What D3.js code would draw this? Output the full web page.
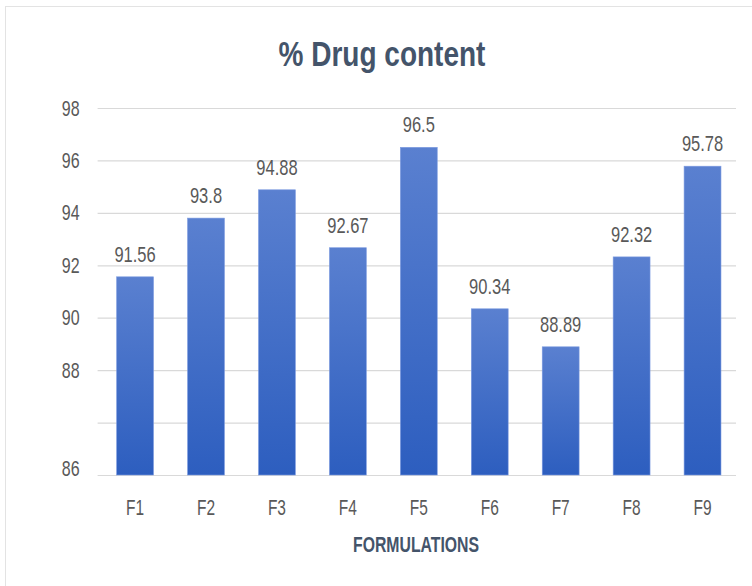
<!DOCTYPE html>
<html>
<head>
<meta charset="utf-8">
<script src="https://cdn.jsdelivr.net/npm/d3@7"></script>
<style>
  html, body { margin: 0; padding: 0; background: #ffffff; }
  svg { display: block; font-family: "Liberation Sans", Arial, sans-serif; }
</style>
</head>
<body>
<svg id="chart" width="752" height="586"></svg>
<script>
// Drug content per formulation (%)
const formulations = ["F1", "F2", "F3", "F4", "F5", "F6", "F7", "F8", "F9"];
const drugContent = [91.56, 93.8, 94.88, 92.67, 96.5, 90.34, 88.89, 92.32, 95.78];
// Gridline positions on the value axis and the text printed beside each
const yTickValues = [84, 86, 88, 90, 92, 94, 96, 98];
const yTickLabels = ["86", "", "88", "90", "92", "94", "96", "98"];

const svg = d3.select("#chart");
const W = 752, H = 586;
const plot = { left: 99.6, right: 738, top: 108, bottom: 475 };
const stretch = 1.38; // tall, narrow glyphs

// outer chart frame
svg.append("rect")
  .attr("x", 5.5).attr("y", 6.5)
  .attr("width", W + 10).attr("height", H + 10)
  .attr("fill", "#ffffff").attr("stroke", "#e3e3e3").attr("stroke-width", 1);

const x = d3.scaleBand()
  .domain(formulations)
  .range([plot.left, plot.right])
  .paddingInner(0.48).paddingOuter(0.24);

const y = d3.scaleLinear()
  .domain([84, 98])
  .range([plot.bottom, plot.top]);

// gradient fill for the bars
const defs = svg.append("defs");
const grad = defs.append("linearGradient")
  .attr("id", "barGrad").attr("x1", 0).attr("y1", 0).attr("x2", 0).attr("y2", 1);
grad.append("stop").attr("offset", "0%").attr("stop-color", "#5a80d0");
grad.append("stop").attr("offset", "100%").attr("stop-color", "#2d5ebf");

// value axis: gridlines + labels
const yAxis = d3.axisLeft(y)
  .tickValues(yTickValues)
  .tickSize(-(plot.right - plot.left))
  .tickPadding(18)
  .tickFormat((d, i) => yTickLabels[i]);

const gy = svg.append("g")
  .attr("transform", `translate(${plot.left - 2},0)`)
  .call(yAxis);
gy.select(".domain").remove();
gy.selectAll(".tick line").attr("stroke", "#d9d9d9").attr("stroke-width", 1.2);
gy.selectAll(".tick text")
  .attr("fill", "#595959")
  .attr("font-size", 16)
  .attr("transform", (d) => `translate(0,${d === 84 ? -7 : 0}) scale(1,${stretch})`);

// bars
svg.append("g").selectAll("rect")
  .data(formulations)
  .join("rect")
  .attr("x", d => x(d))
  .attr("width", x.bandwidth())
  .attr("y", (d, i) => y(drugContent[i]))
  .attr("height", (d, i) => y(84) - y(drugContent[i]))
  .attr("fill", "url(#barGrad)")
  .attr("stroke", "#7d9be0").attr("stroke-width", 0.6);

// value labels above bars
svg.append("g").selectAll("text")
  .data(formulations)
  .join("text")
  .attr("transform", (d, i) =>
    `translate(${x(d) + x.bandwidth() / 2},${y(drugContent[i]) - 15}) scale(1,${stretch})`)
  .attr("text-anchor", "middle")
  .attr("font-size", 16.5)
  .attr("fill", "#595959")
  .text((d, i) => drugContent[i]);

// category labels
svg.append("g").selectAll("text")
  .data(formulations)
  .join("text")
  .attr("transform", d => `translate(${x(d) + x.bandwidth() / 2},515) scale(1,${stretch})`)
  .attr("text-anchor", "middle")
  .attr("font-size", 15.5)
  .attr("fill", "#595959")
  .text(d => d);

// title
svg.append("text")
  .attr("transform", `translate(382,66) scale(1,1.25)`)
  .attr("text-anchor", "middle")
  .attr("font-size", 28)
  .attr("font-weight", "bold")
  .attr("fill", "#44546a")
  .text("% Drug content");

// axis title
svg.append("text")
  .attr("transform", `translate(416,552) scale(1,${stretch})`)
  .attr("text-anchor", "middle")
  .attr("font-size", 15.8)
  .attr("font-weight", "bold")
  .attr("fill", "#44546a")
  .text("FORMULATIONS");
</script>
</body>
</html>
